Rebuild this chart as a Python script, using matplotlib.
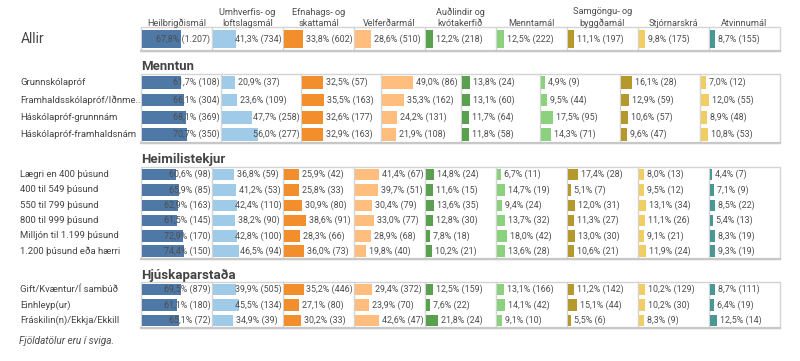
import matplotlib
matplotlib.use("Agg")
import matplotlib.pyplot as plt
from matplotlib.patches import Rectangle

plt.rcParams['font.family'] = ['Roboto', 'DejaVu Sans']

# column headers (topics)
topics = ['Heilbrigðismál', 'Umhverfis- og\nloftslagsmál', 'Efnahags- og\nskattamál', 'Velferðarmál',
          'Auðlindir og\nkvótakerfið', 'Menntamál', 'Samgöngu- og\nbyggðamál', 'Stjórnarskrá', 'Atvinnumál']
colors = ['#4e79a7', '#a0cbe8', '#f28e2b', '#ffbe7d', '#59a14f', '#8cd17d', '#b6992d', '#f1ce63', '#499894']

allir_pct = [67.8, 41.3, 33.8, 28.6, 12.2, 12.5, 11.1, 9.8, 8.7]
allir_n = [1207, 734, 602, 510, 218, 222, 197, 175, 155]

# Menntun has no Atvinnumál column
menntun_rows = ['Grunnskólapróf', 'Framhaldsskólapróf/Iðnme..', 'Háskólapróf-grunnnám', 'Háskólapróf-framhaldsnám']
menntun_pct = [[61.7, 20.9, 32.5, 49.0, 13.8, 4.9, 16.1, 7.0],
               [66.1, 23.6, 35.5, 35.3, 13.1, 9.5, 12.9, 12.0],
               [68.1, 47.7, 32.6, 24.2, 11.7, 17.5, 10.6, 8.9],
               [70.7, 56.0, 32.9, 21.9, 11.8, 14.3, 9.6, 10.8]]
menntun_n = [[108, 37, 57, 86, 24, 9, 28, 12],
             [304, 109, 163, 162, 60, 44, 59, 55],
             [369, 258, 177, 131, 64, 95, 57, 48],
             [350, 277, 163, 108, 58, 71, 47, 53]]

tekjur_rows = ['Lægri en 400 þúsund', '400 til 549 þúsund', '550 til 799 þúsund', '800 til 999 þúsund',
               'Milljón til 1.199 þúsund', '1.200 þúsund eða hærri']
tekjur_pct = [[60.6, 36.8, 25.9, 41.4, 14.8, 6.7, 17.4, 8.0, 4.4],
              [65.9, 41.2, 25.8, 39.7, 11.6, 14.7, 5.1, 9.5, 7.1],
              [62.9, 42.4, 30.9, 30.4, 13.6, 9.4, 12.0, 13.1, 8.5],
              [61.5, 38.2, 38.6, 33.0, 12.8, 13.7, 11.3, 11.1, 5.4],
              [72.9, 42.8, 28.3, 28.9, 7.8, 18.0, 13.0, 9.1, 8.3],
              [74.4, 46.5, 36.0, 19.8, 10.2, 13.6, 10.6, 11.9, 9.3]]
tekjur_n = [[98, 59, 42, 67, 24, 11, 28, 13, 7],
            [85, 53, 33, 51, 15, 19, 7, 12, 9],
            [163, 110, 80, 79, 35, 24, 31, 34, 22],
            [145, 90, 91, 77, 30, 32, 27, 26, 13],
            [170, 100, 66, 68, 18, 42, 30, 21, 19],
            [150, 94, 73, 40, 21, 28, 21, 24, 19]]

hjusk_rows = ['Gift/Kvæntur/Í sambúð', 'Einhleyp(ur)', 'Fráskilin(n)/Ekkja/Ekkill']
hjusk_pct = [[69.5, 39.9, 35.2, 29.4, 12.5, 13.1, 11.2, 10.2, 8.7],
             [61.1, 45.5, 27.1, 23.9, 7.6, 14.1, 15.1, 10.2, 6.4],
             [65.1, 34.9, 30.2, 42.6, 21.8, 9.1, 5.5, 8.3, 12.5]]
hjusk_n = [[879, 505, 446, 372, 159, 166, 142, 129, 111],
           [180, 134, 80, 70, 22, 42, 44, 30, 19],
           [72, 39, 33, 47, 24, 10, 6, 9, 14]]


def fmt(p, n):
    return f"{p:.1f}".replace('.', ',') + "% (" + f"{n:,}".replace(',', '.') + ")"


W, H = 800, 361
fig = plt.figure(figsize=(8, 3.61), dpi=100)
ax = fig.add_axes([0, 0, 1, 1])
ax.set_xlim(0, W)
ax.set_ylim(H, 0)
ax.axis('off')
renderer = fig.canvas.get_renderer()

X0, X1 = 141, 780
TXT = '#4d4d4d'
LAB = '#444444'
GRID = '#d4d4d4'
CELL_FS = 6.4


def panel(top, rowh, pcts, ns, col_idx):
    ncol = len(col_idx)
    cw = (X1 - X0) / ncol
    nrow = len(pcts)
    bottom = top + rowh * nrow
    for r in range(nrow):
        yc = top + rowh * (r + 0.5)
        for c, ci in enumerate(col_idx):
            left = X0 + c * cw
            w = pcts[r][c] / 100 * 0.8 * cw
            ax.barh(yc, w, height=rowh * 0.74, left=left + 1, color=colors[ci], edgecolor='none', zorder=2)
            t = ax.text(left + 1 + w + 3, yc, fmt(pcts[r][c], ns[r][c]), fontsize=CELL_FS, color=TXT,
                        va='center', ha='left', zorder=3)
            tw = t.get_window_extent(renderer).width
            # keep the label inside its cell
            if left + 1 + w + 3 + tw > left + cw - 1.5:
                t.set_x(left + cw - 1.5 - tw)
    # cell borders
    for c in range(1, ncol):
        ax.plot([X0 + c * cw] * 2, [top, bottom], color=GRID, lw=1, zorder=1)
    ax.add_patch(Rectangle((X0, top), X1 - X0, bottom - top, fill=False, edgecolor=GRID, lw=1, zorder=1))
    ax.plot([X0, X1], [bottom, bottom], color='#c8c8c8', lw=1.6, zorder=1)
    return cw


def row_labels(top, rowh, labels):
    for r, lab in enumerate(labels):
        ax.text(20, top + rowh * (r + 0.5), lab, fontsize=6.8, color=LAB, va='center', ha='left')


# Allir
all_cols = list(range(9))
cw = panel(27, 24, [allir_pct], [allir_n], all_cols)
for c, name in enumerate(topics):
    ax.text(X0 + cw * (c + 0.5), 27.5, name, fontsize=6.6, color=TXT, ha='center', va='bottom', linespacing=1.2)
ax.text(21, 39, 'Allir', fontsize=10, color=LAB, va='center', ha='left')

# Menntun
ax.text(X0, 66, 'Menntun', fontsize=9.5, fontweight='bold', color=LAB, va='center', ha='left')
panel(74, 17.3, menntun_pct, menntun_n, all_cols[:8])
row_labels(74, 17.3, menntun_rows)

# Heimilistekjur
ax.text(X0, 159, 'Heimilistekjur', fontsize=9.5, fontweight='bold', color=LAB, va='center', ha='left')
panel(167, 15.3, tekjur_pct, tekjur_n, all_cols)
row_labels(167, 15.3, tekjur_rows)

# Hjúskaparstaða
ax.text(X0, 275, 'Hjúskaparstaða', fontsize=9.5, fontweight='bold', color=LAB, va='center', ha='left')
panel(282, 15.3, hjusk_pct, hjusk_n, all_cols)
row_labels(282, 15.3, hjusk_rows)

ax.text(19, 341, 'Fjöldatölur eru í sviga.', fontsize=7.2, style='italic', color=TXT, va='center', ha='left')

fig.savefig('out.png', dpi=100)
